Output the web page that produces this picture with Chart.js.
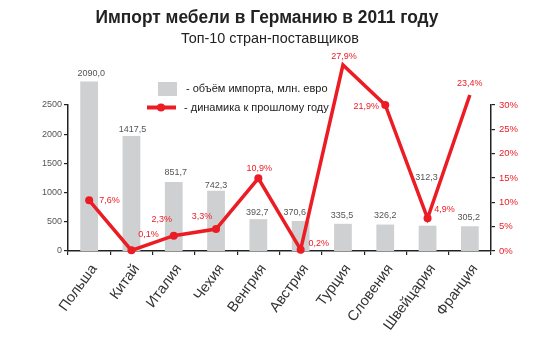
<!DOCTYPE html>
<html>
<head>
<meta charset="utf-8">
<script src="https://cdn.jsdelivr.net/npm/chart.js@4.4.1/dist/chart.umd.min.js"></script>
<style>
  html, body { margin: 0; padding: 0; background: #fff; }
</style>
</head>
<body>
<canvas id="chart" width="550" height="339"></canvas>
<script>
/* ------------ DATA ------------ */
const countries = ['Польша', 'Китай', 'Италия', 'Чехия', 'Венгрия', 'Австрия', 'Турция', 'Словения', 'Швейцария', 'Франция'];
const importVolume = [2090.0, 1417.5, 851.7, 742.3, 392.7, 370.6, 335.5, 326.2, 312.3, 305.2];  // млн. евро
const growthPct = [7.6, 0.1, 2.3, 3.3, 10.9, 0.2, 27.9, 21.9, 4.9, 23.4];                       // % к 2010
const leftTicks = [0, 500, 1000, 1500, 2000, 2500];
const rightTicks = [0, 5, 10, 15, 20, 25, 30];

/* ------------ STYLE ------------ */
const RED = '#ec1c24';
const GREY_BAR = '#cfd0d2';
const AXIS = '#222';
const SANS = '"Liberation Sans", Arial, sans-serif';

// label nudges [dx, dy] relative to bar top / point, as placed in the original
const barLabelShift = [[2, -8], [1, -7], [2, -9], [0, -5], [-1, -7], [-6, -8], [-1, -8], [0, -9], [-1, -48], [-1, -9]];
const lineLabelShift = [[10, 0, 'left'], [17, -16, 'center'], [-12, -16, 'center'], [-14, -12, 'center'], [1, -10, 'center'],
                        [18, -6, 'center'], [1, -8, 'center'], [-19, 2, 'center'], [17, -9, 'center'], [0, -11, 'center']];

const fmt = v => v.toFixed(1).replace('.', ',');

// text squeezed/stretched to a given width (the original uses a condensed face)
function fitText(ctx, txt, cx, cy, w) {
  const k = w / ctx.measureText(txt).width;
  ctx.save();
  ctx.translate(cx, cy);
  ctx.scale(k, 1);
  ctx.fillText(txt, 0, 0);
  ctx.restore();
}

/* ------------ CUSTOM DRAWING: title, legend, value labels ------------ */
const decor = {
  id: 'decor',
  afterDatasetsDraw(chart) {
    const { ctx } = chart;
    const bars = chart.getDatasetMeta(1).data;
    const pts = chart.getDatasetMeta(0).data;
    ctx.save();
    ctx.textBaseline = 'middle';

    ctx.font = `9px ${SANS}`;
    ctx.fillStyle = '#555';
    ctx.textAlign = 'center';
    bars.forEach((b, i) => {
      const [dx, dy] = barLabelShift[i];
      ctx.fillText(fmt(importVolume[i]), b.x + dx, b.y + dy);
    });

    ctx.fillStyle = RED;
    pts.forEach((p, i) => {
      const [dx, dy, al] = lineLabelShift[i];
      ctx.textAlign = al;
      ctx.fillText(fmt(growthPct[i]) + '%', p.x + dx, p.y + dy);
    });
    ctx.restore();
  },
  afterDraw(chart) {
    const { ctx } = chart;
    ctx.save();
    ctx.textBaseline = 'middle';
    ctx.textAlign = 'center';
    ctx.fillStyle = '#222';
    ctx.font = `bold 18px ${SANS}`;
    fitText(ctx, 'Импорт мебели в Германию в 2011 году', 267, 18, 343);
    ctx.font = `15px ${SANS}`;
    fitText(ctx, 'Топ-10 стран-поставщиков', 270, 39, 178);

    // legend
    ctx.fillStyle = GREY_BAR;
    ctx.fillRect(158, 82, 19, 14);
    ctx.strokeStyle = RED;
    ctx.lineWidth = 4;
    ctx.beginPath();
    ctx.moveTo(147, 107.5);
    ctx.lineTo(176, 107.5);
    ctx.stroke();
    ctx.fillStyle = RED;
    ctx.beginPath();
    ctx.arc(161, 107.5, 4, 0, Math.PI * 2);
    ctx.fill();

    ctx.fillStyle = '#222';
    ctx.textAlign = 'left';
    ctx.font = `11px ${SANS}`;
    ctx.fillText('- объём импорта, млн. евро', 186, 89);
    ctx.fillText('- динамика к прошлому году', 184, 107.5);
    ctx.restore();
  }
};

/* ------------ CHART ------------ */
new Chart(document.getElementById('chart'), {
  type: 'bar',
  data: {
    labels: countries,
    datasets: [
      {
        type: 'line', label: 'динамика к прошлому году', data: growthPct, yAxisID: 'yL',
        borderColor: RED, backgroundColor: RED, borderWidth: 3.5,
        pointRadius: 4, pointBackgroundColor: RED, pointBorderWidth: 0,
        tension: 0, clip: false, order: 0
      },
      {
        type: 'bar', label: 'объём импорта, млн. евро', data: importVolume, yAxisID: 'yB',
        backgroundColor: GREY_BAR, categoryPercentage: 1, barPercentage: 0.42,
        clip: false, order: 1
      }
    ]
  },
  options: {
    responsive: false,
    animation: false,
    devicePixelRatio: 1,
    layout: { padding: { top: 105, left: 0, right: 0, bottom: 0 } },
    plugins: { legend: { display: false }, tooltip: { enabled: false }, title: { display: false } },
    scales: {
      x: {
        grid: { drawOnChartArea: false, color: AXIS, tickLength: 4, lineWidth: 1.2 },
        border: { color: AXIS, width: 1.5 },
        ticks: { color: '#333', font: { family: SANS, size: 14.5 }, minRotation: 54, maxRotation: 54, autoSkip: false,
                 padding: 6, labelOffset: 5 },
        afterFit: s => { s.height = 88; }
      },
      y: {
        position: 'left',
        min: leftTicks[0], max: leftTicks[leftTicks.length - 1],
        grid: { drawOnChartArea: false, color: AXIS, tickLength: 4, lineWidth: 1.2 },
        border: { color: AXIS, width: 1.5 },
        ticks: { stepSize: leftTicks[1] - leftTicks[0], color: '#555', font: { family: SANS, size: 9 }, padding: 2,
                 callback: v => String(v) },
        afterFit: s => { s.width = 68; }
      },
      y1: {
        position: 'right',
        min: rightTicks[0], max: rightTicks[rightTicks.length - 1],
        grid: { drawOnChartArea: false, color: AXIS, tickLength: 4, lineWidth: 1.2 },
        border: { color: AXIS, width: 1.5 },
        ticks: { stepSize: rightTicks[1] - rightTicks[0], color: RED, font: { family: SANS, size: 9.5 }, padding: 4,
                 callback: v => v + '%' },
        afterFit: s => { s.width = 59; }
      },
      // the original draws bars and line on their own (unlabelled) scales
      yB: { display: false, min: 0, max: 1800 },
      yL: { display: false, min: 0, max: 21.9 }
    }
  },
  plugins: [decor]
});
</script>
</body>
</html>
